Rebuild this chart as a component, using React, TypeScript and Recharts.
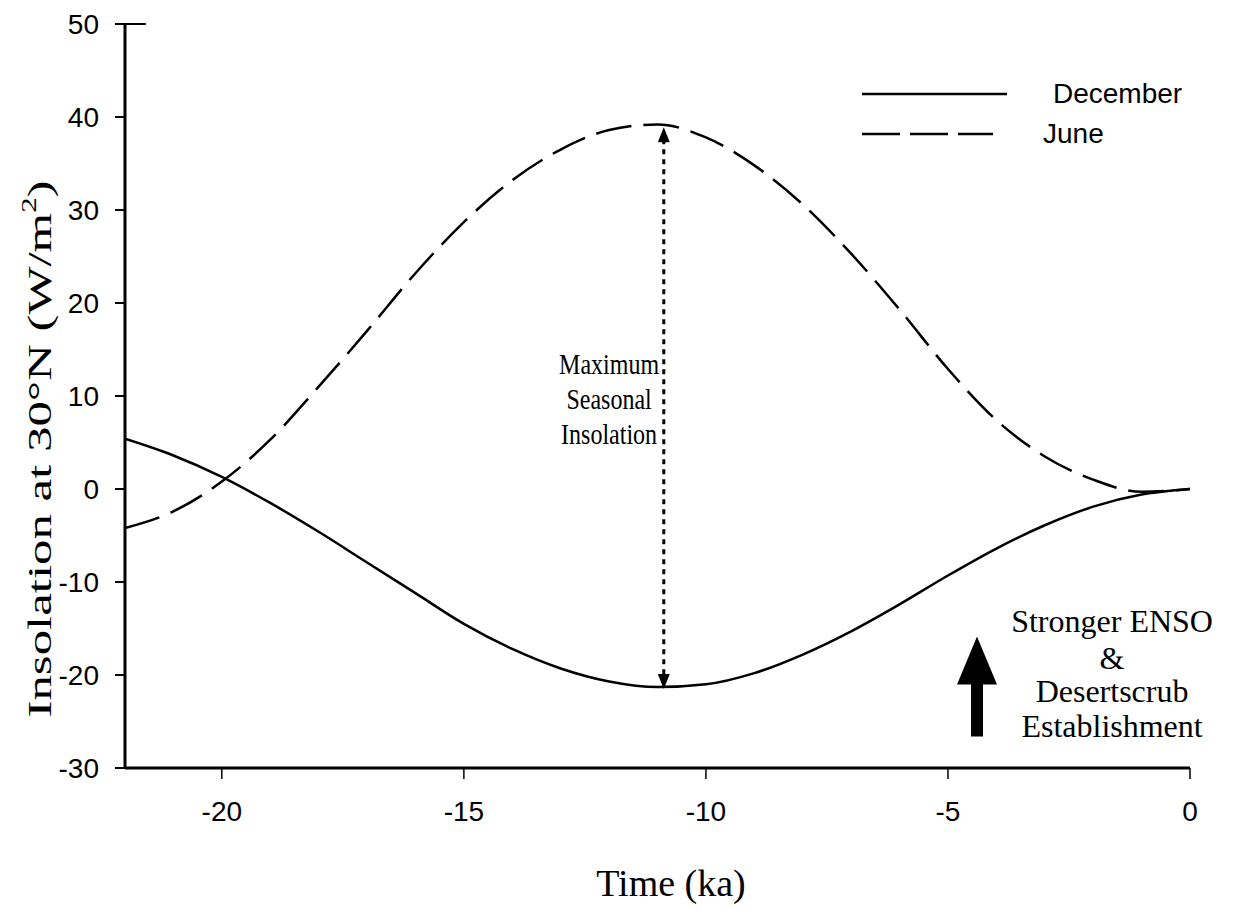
import React from "react";
import {
  LineChart,
  Line,
  XAxis,
  YAxis,
  Legend,
  ReferenceLine,
  ReferenceDot,
} from "recharts";

// time in ka, insolation anomaly at 30N (W/m2)
const years = [
  -22, -21, -20, -19, -18, -17, -16, -15, -14, -13, -12, -11, -10, -9, -8, -7,
  -6, -5, -4, -3, -2, -1, 0,
];
const december = [
  5.4, 3.6, 1.3, -1.5, -4.6, -7.9, -11.2, -14.5, -17.2, -19.3, -20.7, -21.3,
  -21.0, -19.8, -17.8, -15.3, -12.4, -9.3, -6.4, -3.9, -1.9, -0.6, 0,
];
const june = [
  -4.2, -2.4, 0.8, 5.3, 11.0, 17.0, 23.2, 28.7, 33.2, 36.5, 38.6, 39.2, 37.8,
  34.8, 30.6, 25.3, 19.3, 12.9, 7.4, 3.5, 1.0, -0.3, 0,
];
const xTicks = [-20, -15, -10, -5, 0];
const yTicks = [-30, -20, -10, 0, 10, 20, 30, 40, 50];

const maxLabel = ["Maximum", "Seasonal", "Insolation"];
const ensoLabel = ["Stronger ENSO", "&", "Desertscrub", "Establishment"];

const data = years.map((t, i) => ({ t, december: december[i], june: june[i] }));

const SANS = "'Liberation Sans', Arial, sans-serif";
const SERIF = "'Liberation Serif', 'Times New Roman', serif";

// spots for the annotations (data units)
const arrowX = -10.87;
const arrowTop = 38.9;
const arrowBottom = -21.5;

const DoubleArrow = (props: any) => {
  const { x1, y1, x2, y2 } = props;
  return (
    <g>
      <line
        x1={x1}
        y1={y1 + 12}
        x2={x2}
        y2={y2 - 12}
        stroke="#000"
        strokeWidth={3}
        strokeDasharray="5 5"
      />
      <polygon points={`${x1},${y1} ${x1 - 6},${y1 + 15} ${x1 + 6},${y1 + 15}`} fill="#000" />
      <polygon points={`${x2},${y2} ${x2 - 6},${y2 - 15} ${x2 + 6},${y2 - 15}`} fill="#000" />
    </g>
  );
};

const BigArrow = (props: any) => {
  const { cx, cy } = props;
  const pts = [
    [cx, cy],
    [cx + 20, cy + 48],
    [cx + 6, cy + 48],
    [cx + 6, cy + 100],
    [cx - 6, cy + 100],
    [cx - 6, cy + 48],
    [cx - 20, cy + 48],
  ]
    .map((p) => p.join(","))
    .join(" ");
  return <polygon points={pts} fill="#000" />;
};

const MaxText = (props: any) => {
  const { cx, cy } = props;
  return (
    <g transform={`translate(${cx},${cy}) scale(1,1.25)`}>
      {maxLabel.map((s, i) => (
        <text
          key={s}
          x={0}
          y={i * 28}
          textAnchor="middle"
          fontFamily={SERIF}
          fontSize={24}
          fill="#000"
        >
          {s}
        </text>
      ))}
    </g>
  );
};

const EnsoText = (props: any) => {
  const { cx, cy } = props;
  const offs = [0, 37, 70, 105];
  return (
    <g>
      {ensoLabel.map((s, i) => (
        <text
          key={s}
          x={cx}
          y={cy + offs[i]}
          textAnchor="middle"
          fontFamily={SERIF}
          fontSize={32}
          fill="#000"
        >
          {s}
        </text>
      ))}
    </g>
  );
};

const renderLegend = (props: any) => {
  const { payload } = props;
  return (
    <div style={{ position: "relative", width: 360, height: 90 }}>
      {payload.map((entry: any, i: number) => {
        const dashed = entry.value === "June";
        return (
          <div key={entry.value}>
            <svg
              width={150}
              height={10}
              style={{ position: "absolute", left: 0, top: 14 + i * 40 }}
            >
              <line
                x1={0}
                y1={5}
                x2={dashed ? 131 : 145}
                y2={5}
                stroke="#000"
                strokeWidth={2.5}
                strokeDasharray={dashed ? "38 10" : undefined}
              />
            </svg>
            <span
              style={{
                position: "absolute",
                left: dashed ? 181 : 191,
                top: 2 + i * 40,
                fontFamily: SANS,
                fontSize: 28,
                lineHeight: "34px",
                color: "#000",
                whiteSpace: "nowrap",
              }}
            >
              {entry.value}
            </span>
          </div>
        );
      })}
    </div>
  );
};

const YLabel = () => (
  <text
    x={40}
    y={449}
    transform="rotate(-90, 40, 449)"
    textAnchor="middle"
    dominantBaseline="central"
    fontFamily={SERIF}
    fontSize={33}
    fill="#000"
    textLength={537}
    lengthAdjust="spacingAndGlyphs"
  >
    Insolation at 30°N (W/m<tspan dy={-11} fontSize={20}>2</tspan>
    <tspan dy={11}>)</tspan>
  </text>
);

const XLabel = () => (
  <text
    x={671}
    y={896}
    textAnchor="middle"
    fontFamily={SERIF}
    fontSize={38}
    fill="#000"
  >
    Time (ka)
  </text>
);

export default function App() {
  return (
    <div
      style={{
        position: "absolute",
        left: 0,
        top: 0,
        width: 1233,
        height: 911,
        background: "#fff",
      }}
    >
      <LineChart
        width={1233}
        height={911}
        data={data}
        margin={{ top: 24, right: 43, left: 65, bottom: 83 }}
      >
        <XAxis
          dataKey="t"
          type="number"
          domain={[-22, 0]}
          ticks={xTicks}
          allowDataOverflow
          height={60}
          axisLine={{ stroke: "#000", strokeWidth: 3 }}
          tickLine={{ stroke: "#000", strokeWidth: 1.5 }}
          tickSize={11}
          tickMargin={22}
          tick={{ fill: "#000", fontSize: 28, fontFamily: SANS }}
          label={<XLabel />}
        />
        <YAxis
          type="number"
          domain={[-30, 50]}
          ticks={yTicks}
          allowDataOverflow
          width={60}
          axisLine={{ stroke: "#000", strokeWidth: 3 }}
          tickLine={{ stroke: "#000", strokeWidth: 2 }}
          tickSize={10}
          tickMargin={16}
          tick={{ fill: "#000", fontSize: 28, fontFamily: SANS }}
          label={<YLabel />}
        />
        <ReferenceLine
          segment={[
            { x: -22, y: 50 },
            { x: -21.57, y: 50 },
          ]}
          stroke="#000"
          strokeWidth={2}
        />
        <Legend
          content={renderLegend}
          layout="horizontal"
          verticalAlign="middle"
          align="center"
          wrapperStyle={{ position: "absolute", left: 862, top: 75, width: 360 }}
        />
        <Line
          type="monotone"
          dataKey="december"
          name="December"
          stroke="#000"
          strokeWidth={2.5}
          dot={false}
          isAnimationActive={false}
        />
        <Line
          type="monotone"
          dataKey="june"
          name="June"
          stroke="#000"
          strokeWidth={2.5}
          strokeDasharray="36 12"
          dot={false}
          isAnimationActive={false}
        />
        <ReferenceLine
          segment={[
            { x: arrowX, y: arrowTop },
            { x: arrowX, y: arrowBottom },
          ]}
          shape={DoubleArrow}
        />
        <ReferenceDot x={-12.0} y={12.4} r={0} shape={MaxText} />
        <ReferenceDot x={-4.4} y={-15.87} r={0} shape={BigArrow} />
        <ReferenceDot x={-1.61} y={-15.43} r={0} shape={EnsoText} />
      </LineChart>
    </div>
  );
}
